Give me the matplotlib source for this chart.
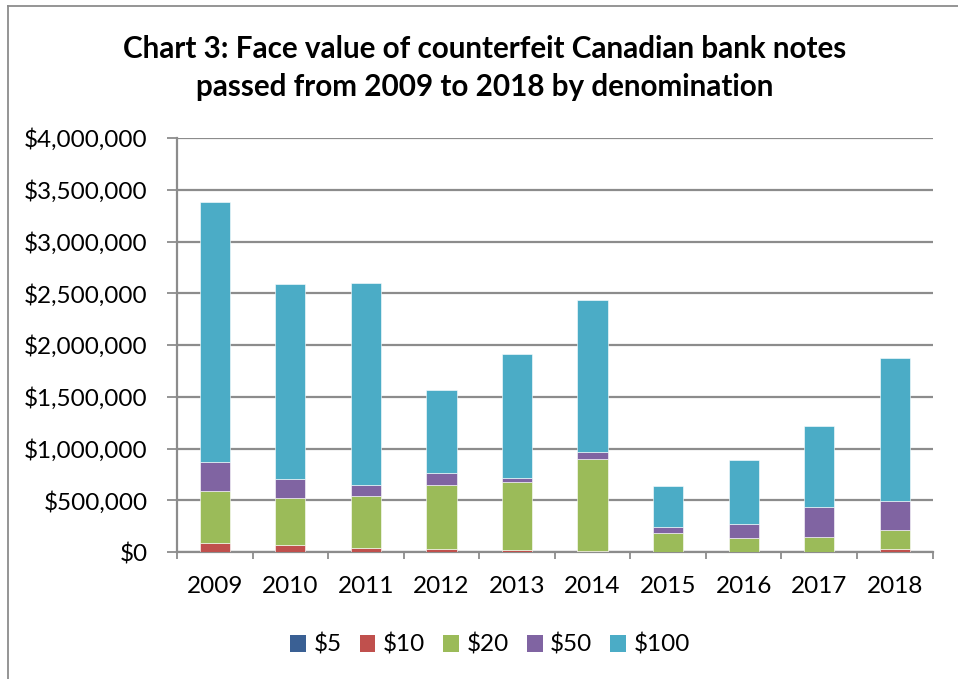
import matplotlib
matplotlib.use("Agg")
import matplotlib.pyplot as plt
from matplotlib.patches import Patch
from matplotlib.lines import Line2D
from matplotlib.ticker import FuncFormatter, FixedLocator
import numpy as np

plt.rcParams['font.family'] = ['Lato', 'DejaVu Sans']

years = ["2009", "2010", "2011", "2012", "2013", "2014", "2015", "2016", "2017", "2018"]
denoms = ["$5", "$10", "$20", "$50", "$100"]
v5 = [1000, 1000, 800, 600, 500, 400, 300, 300, 300, 400]
v10 = [90000, 65000, 42000, 26000, 15000, 5000, 3000, 3000, 4000, 26000]
v20 = [499000, 454000, 499000, 618000, 658000, 894000, 184000, 135000, 138000, 184000]
v50 = [281000, 186000, 106000, 116000, 45000, 64000, 52000, 136000, 290000, 286000]
v100 = [2509000, 1886000, 1952000, 805000, 1195000, 1469000, 402000, 615000, 785000, 1375000]
colors = ["#3A6094", "#C0504D", "#9BBB59", "#8064A2", "#4BACC6"]
series = [v5, v10, v20, v50, v100]

W, H = 958, 679
fig = plt.figure(figsize=(W / 100, H / 100), dpi=100)
ax = fig.add_axes([177 / W, 1 - 552 / H, (932.5 - 177) / W, (552 - 138) / H])

x = np.arange(len(years))
bottom = np.zeros(len(years))
for vals, c, name in zip(series, colors, denoms):
    vals = np.array(vals, dtype=float)
    ax.bar(x, vals, 0.4, bottom=bottom, color=c, edgecolor="#FFFFFF", linewidth=0.4,
           label=name, zorder=3)
    bottom += vals

ax.set_xlim(-0.5, len(years) - 0.5)
ax.set_ylim(0, 4000000)
ax.set_yticks(np.arange(0, 4000001, 500000))
ax.yaxis.set_major_formatter(FuncFormatter(lambda v, p: "${:,.0f}".format(v)))
ax.grid(axis="y", color="#8C8C8C", linewidth=1.6, zorder=0)
ax.set_axisbelow(True)

ax.set_xticks(x)
ax.set_xticklabels(years)
ax.xaxis.set_minor_locator(FixedLocator(np.arange(-0.5, len(years), 1.0)))
ax.tick_params(axis="x", which="major", length=0, pad=17, labelsize=17.5)
ax.tick_params(axis="x", which="minor", length=5, width=1.3, color="#8C8C8C", direction="out")
ax.tick_params(axis="y", which="major", length=7, width=1.3, color="#8C8C8C", direction="out",
               pad=14, labelsize=17.5)

for s in ["top", "right"]:
    ax.spines[s].set_visible(False)
for s in ["left", "bottom"]:
    ax.spines[s].set_color("#8C8C8C")
    ax.spines[s].set_linewidth(1.6)

fig.text(485 / W, 1 - 68 / H,
         "Chart 3: Face value of counterfeit Canadian bank notes\npassed from 2009 to 2018 by denomination",
         ha="center", va="center", fontsize=21.3, fontweight="bold", linespacing=1.42)

handles = [Patch(facecolor=c, edgecolor="none") for c in colors]
fig.legend(handles, denoms, loc="center", bbox_to_anchor=(490 / W, 1 - 645 / H), ncol=5,
           frameon=False, fontsize=17.5, handlelength=0.65, handleheight=0.65,
           handletextpad=0.3, columnspacing=0.75)

# outer chart border (left and top)
fig.add_artist(Line2D([7.5 / W, 7.5 / W], [0, 1 - 5.5 / H], transform=fig.transFigure,
                      color="#8C8C8C", linewidth=1.3))
fig.add_artist(Line2D([7.5 / W, 1], [1 - 5.5 / H, 1 - 5.5 / H], transform=fig.transFigure,
                      color="#8C8C8C", linewidth=1.3))

fig.savefig("out.png", dpi=100)
